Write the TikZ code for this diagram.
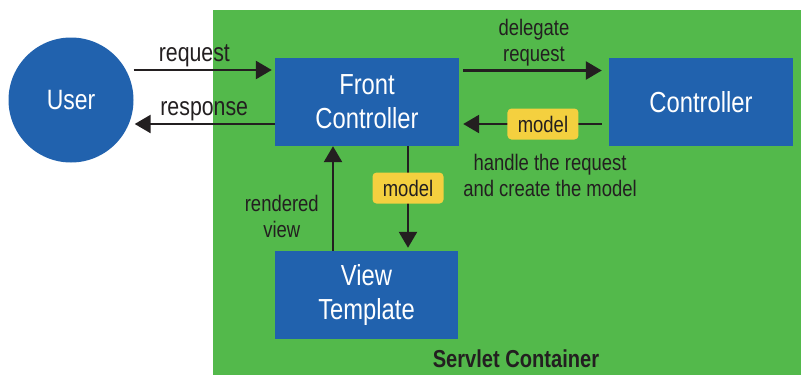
\documentclass[tikz,border=0pt]{standalone}
\usepackage{fontspec}
\setmainfont{Liberation Sans}[FakeStretch=0.82]
\usepackage{tikz}
\usetikzlibrary{arrows.meta}
\usetikzlibrary{positioning}
\definecolor{boxblue}{HTML}{2162AE}
\definecolor{contgreen}{HTML}{53B94B}
\definecolor{tagyellow}{HTML}{F4D03F}
\definecolor{ink}{HTML}{231F20}
\tikzset{comp/.style={rectangle,fill=boxblue,text=white,minimum width=184pt,minimum height=88pt,inner sep=0pt,align=center,font=\fontsize{29}{34}\selectfont}}
\tikzset{usr/.style={circle,fill=boxblue,text=white,minimum size=125pt,inner sep=0pt,font=\fontsize{28}{32}\selectfont}}
\tikzset{tag/.style={rectangle,rounded corners=4pt,fill=tagyellow,text=ink,minimum width=71pt,minimum height=31pt,inner sep=0pt,font=\fontsize{22.5}{26}\selectfont}}
\tikzset{flow/.style={draw=ink,line width=2.6pt,-{Triangle[length=16pt,width=18pt]}}}
\tikzset{lbl/.style={text=ink,align=center,inner sep=0pt,font=\fontsize{22.5}{26}\selectfont}}
\tikzset{biglbl/.style={lbl,font=\fontsize{26}{30}\selectfont}}

\begin{document}
\begin{tikzpicture}[x=1pt,y=-1pt]
\useasboundingbox (0,0) rectangle (803,375);
% servlet container
\fill[contgreen] (213,10) rectangle (801,375);
\node[text=ink,inner sep=0pt,font=\bfseries\fontsize{24.5}{28}\selectfont] (servlet) at (516,359) {Servlet Container};

\node[usr] (user) at (71,100) {User};
\node[comp] (fc) at (367,102) {Front\\Controller};
\node[comp] (ctrl) at (701,102) {Controller};
\node[comp, minimum width=183pt] (view) at (366.5,295) {View\\Template};

% user <-> front controller
 \draw[flow, shorten >=3pt] ([yshift=30pt]user.east) -- node[biglbl, above=2pt, pos=0.43] {request} ([yshift=30pt]user.east -| fc.west);
 \draw[flow, shorten >=1pt] ([yshift=-22pt]fc.west) -- node[biglbl, above=2pt] {response} ([yshift=-22pt]fc.west -| user.east);

% front controller <-> controller
 \draw[flow, shorten <=4pt, shorten >=7pt] ([yshift=31.5pt]fc.east) -- node[lbl, above=3pt] {delegate\\request} ([yshift=31.5pt]ctrl.west);
 \draw[flow, shorten <=7pt, shorten >=4pt] ([yshift=-22pt]ctrl.west) -- node[tag, pos=0.44] (mtag) {model} ([yshift=-22pt]fc.east);
 \node[lbl] (handle) at (550,175) {handle the request\\and create the model};

% front controller <-> view
 \draw[flow, shorten >=3pt] ([xshift=41pt]fc.south) -- node[tag, pos=0.4] (vtag) {model} ([xshift=41pt]fc.south |- view.north);
 \draw[flow] ([xshift=-33.5pt]view.north) -- node[lbl, left=13pt, pos=0.33] {rendered\\view} ([xshift=-33.5pt]view.north |- fc.south);
\end{tikzpicture}
\end{document}
